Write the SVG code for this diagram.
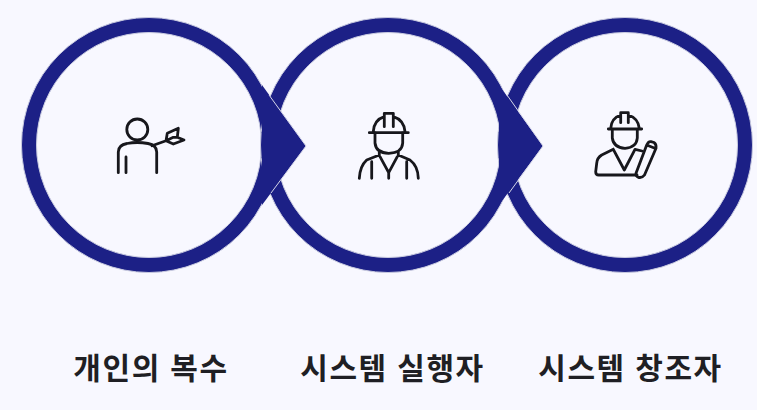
<svg xmlns="http://www.w3.org/2000/svg" width="757" height="410" viewBox="0 0 757 410">
<style>
.ring{fill:none;stroke:#1c2086;stroke-width:15}
.edge{fill:none;stroke:#c9cbe0;stroke-width:1}
.arrow{fill:#1c2086}
.aedge{fill:none;stroke:#d5d6e8;stroke-width:1}
.ic{fill:none;stroke:#17171c;stroke-width:2.8;stroke-linecap:round;stroke-linejoin:round}
.lb{font-family:"Noto Sans CJK KR","Noto Sans",sans-serif;font-weight:700;font-size:30px;fill:#1f1f24;text-anchor:middle;letter-spacing:1.6px;word-spacing:1px}
</style>
<rect width="757" height="410" fill="#f8f8ff"/>
<g id="node-1">
<circle class="ring" cx="149" cy="145" r="120"/>
<circle class="edge" cx="149" cy="145" r="112.5"/>
<circle class="edge" cx="149" cy="145" r="127.5"/>
</g>
<g id="node-2">
<circle class="ring" cx="388" cy="145" r="120"/>
<circle class="edge" cx="388" cy="145" r="112.5"/>
<circle class="edge" cx="388" cy="145" r="127.5"/>
</g>
<g id="node-3">
<circle class="ring" cx="625" cy="145" r="120"/>
<circle class="edge" cx="625" cy="145" r="112.5"/>
<circle class="edge" cx="625" cy="145" r="127.5"/>
</g>
<g id="connectors">
<polygon class="arrow" points="262,85 306,146 262,205"/>
<polygon class="arrow" points="499,85 543,146 499,205"/>
<path class="aedge" d="M269,95L306,146L271,193"/>
<path class="aedge" d="M507,95L543,146L509,193"/>
</g>
<g id="icon-1" class="ic">
<circle cx="137.300" cy="129.500" r="10.500"/>
<path d="M118.300,172.700V152Q118.300,145 127,143.500Q137,141.500 148,143.500Q156.700,145 156.700,152V172.700M126,157V172.700"/>
<path d="M152,145.700L166,140.700L167.300,133.300L178.300,128.300L177.300,137.300L173.300,137.300L166,140.700L173.300,144L184,140L177.300,137.300"/>
</g>
<g id="icon-2" class="ic">
<path d="M373.300,131.700Q374,120 384.300,116.700V113.300H393.300V116.700Q404,120 405,131.700M369.300,132.700H408.300M384.300,113.300V126.700M393.300,113.300V126.700"/>
<path d="M375,133V143Q376,153 388.700,153.300Q402,153 402.700,143V133"/>
<path d="M379.300,152V155L366.700,160Q360,166 359.300,178.300M398.300,152V155L410,160Q418,166 418.300,178.300M371.700,161.700V178.300M406.700,161.700V178.300M380,156.700L388.700,172.700L397.300,156.700M388.700,172.700V178.300"/>
</g>
<g id="icon-3" class="ic">
<path d="M610.700,128.300Q611.500,118 620.700,115V112.700H628.300V115Q638,118 639.300,128.300M608.300,129H641.700M620.700,112.700V122.700M628.300,112.700V122.700"/>
<path d="M612.300,130V138Q613.500,147.500 625,148.300Q636.500,147.500 637.300,138V130"/>
<path d="M613.300,149.300L601.700,155Q597,158 596.700,163.300L595.700,171.700Q595.700,175 598.700,175H637M613.300,149.300L624.300,170L635,149.300L642,151"/>
<path d="M636,173.300L646.700,145Q648.500,141 651,141.700L654,142.500Q656.500,144 656,148.300L644.500,175Q642,178.300 638.300,177.300Q635.500,176 636,173.300M646.700,145L655.500,148.500"/>
</g>
<g id="label-1"><text class="lb" x="151" y="379">개인의 복수</text></g>
<g id="label-2"><text class="lb" x="392.500" y="379">시스템 실행자</text></g>
<g id="label-3"><text class="lb" x="630.500" y="379">시스템 창조자</text></g>
</svg>
